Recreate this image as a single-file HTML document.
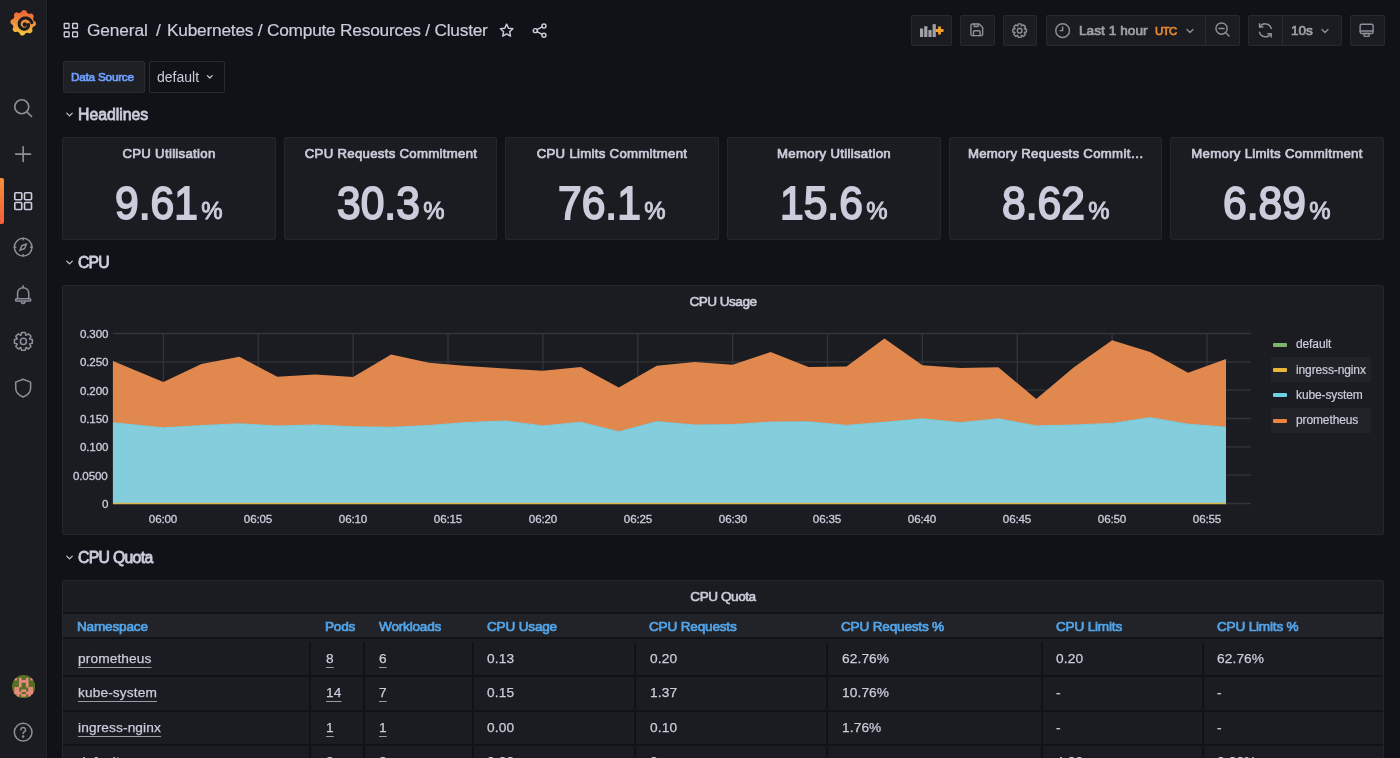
<!DOCTYPE html>
<html><head><meta charset="utf-8"><title>Kubernetes / Compute Resources / Cluster</title>
<style>
html,body{margin:0;padding:0;}
body{width:1400px;height:758px;overflow:hidden;background:#111217;font-family:"Liberation Sans", sans-serif;position:relative;}
.t{will-change:transform;}
</style></head><body>
<div style="position:absolute;left:0.00px;top:0.00px;width:47.00px;height:758.00px;background:#1b1c21;border-radius:0px;box-sizing:border-box;border-right:1px solid #26272c;box-shadow:1px 0 0 #0d0e12;"></div>
<svg style="position:absolute;left:0.00px;top:0.00px;" width="46" height="46" viewBox="0 0 46 46" fill="none">
<defs><linearGradient id="lg" x1="0" y1="0" x2="0" y2="1"><stop offset="0" stop-color="#ec5f33"/><stop offset="0.5" stop-color="#f0913a"/><stop offset="1" stop-color="#f6c83e"/></linearGradient></defs>
<path fill="url(#lg)" d="M35.85 22.80 L35.89 23.30 L35.86 23.80 L35.81 24.29 L35.73 24.78 L35.55 25.26 L35.21 25.68 L34.67 26.03 L34.02 26.31 L33.44 26.58 L33.07 26.89 L32.84 27.24 L32.65 27.61 L32.45 27.98 L32.27 28.36 L32.17 28.79 L32.22 29.35 L32.37 30.03 L32.46 30.71 L32.38 31.29 L32.15 31.75 L31.82 32.12 L31.45 32.46 L31.06 32.77 L30.65 33.06 L30.20 33.27 L29.65 33.33 L29.02 33.20 L28.36 32.93 L27.77 32.71 L27.29 32.67 L26.87 32.75 L26.48 32.88 L26.08 33.01 L25.68 33.14 L25.30 33.38 L24.94 33.81 L24.57 34.40 L24.16 34.94 L23.69 35.30 L23.20 35.45 L22.70 35.49 L22.20 35.46 L21.71 35.41 L21.22 35.33 L20.74 35.15 L20.32 34.81 L19.97 34.27 L19.69 33.62 L19.42 33.04 L19.11 32.67 L18.76 32.44 L18.39 32.25 L18.02 32.05 L17.64 31.87 L17.21 31.77 L16.65 31.82 L15.97 31.97 L15.29 32.06 L14.71 31.98 L14.25 31.75 L13.88 31.42 L13.54 31.05 L13.23 30.66 L12.94 30.25 L12.73 29.80 L12.67 29.25 L12.80 28.62 L13.07 27.96 L13.29 27.37 L13.33 26.89 L13.25 26.47 L13.12 26.08 L12.99 25.68 L12.86 25.28 L12.62 24.90 L12.19 24.54 L11.60 24.17 L11.06 23.76 L10.70 23.29 L10.55 22.80 L10.51 22.30 L10.54 21.80 L10.59 21.31 L10.67 20.82 L10.85 20.34 L11.19 19.92 L11.73 19.57 L12.38 19.29 L12.96 19.02 L13.33 18.71 L13.56 18.36 L13.75 17.99 L13.95 17.62 L14.13 17.24 L14.23 16.81 L14.18 16.25 L14.03 15.57 L13.94 14.89 L14.02 14.31 L14.25 13.85 L14.58 13.48 L14.95 13.14 L15.34 12.83 L15.75 12.54 L16.20 12.33 L16.75 12.27 L17.38 12.40 L18.04 12.67 L18.63 12.89 L19.11 12.93 L19.53 12.85 L19.92 12.72 L20.32 12.59 L20.72 12.46 L21.10 12.22 L21.46 11.79 L21.83 11.20 L22.24 10.66 L22.71 10.30 L23.20 10.15 L23.70 10.11 L24.20 10.14 L24.69 10.19 L25.18 10.27 L25.66 10.45 L26.08 10.79 L26.43 11.33 L26.71 11.98 L26.98 12.56 L27.29 12.93 L27.64 13.16 L28.01 13.35 L28.38 13.55 L28.76 13.73 L29.19 13.83 L29.75 13.78 L30.43 13.63 L31.11 13.54 L31.69 13.62 L32.15 13.85 L32.52 14.18 L32.86 14.55 L33.17 14.94 L33.46 15.35 L33.67 15.80 L33.73 16.35 L33.60 16.98 L33.33 17.64 L33.11 18.23 L33.07 18.71 L33.15 19.13 L33.28 19.52 L33.41 19.92 L33.54 20.32 L33.78 20.70 L34.21 21.06 L34.80 21.43 L35.34 21.84 L35.70 22.31 Z"/>
<path d="M31.85 22.61 L31.57 21.92 L31.21 21.28 L30.80 20.67 L30.33 20.12 L29.81 19.62 L29.25 19.18 L28.65 18.81 L28.02 18.50 L27.37 18.26 L26.70 18.09 L26.03 17.99 L25.35 17.96 L24.68 17.99 L24.03 18.10 L23.40 18.27 L22.79 18.51 L22.21 18.80 L21.68 19.14 L21.18 19.54 L20.74 19.98 L20.34 20.46 L20.00 20.97 L19.72 21.51 L19.50 22.07 L19.33 22.64 L19.23 23.22 L19.19 23.80 L19.21 24.38 L19.29 24.94 L19.42 25.49 L19.61 26.02 L19.85 26.51 L20.13 26.98 L20.46 27.41 L20.82 27.80 L21.22 28.14 L21.65 28.44 L22.10 28.69 L22.57 28.89 L23.05 29.03 L23.54 29.13 L24.03 29.17 L24.51 29.17 L24.98 29.11 L25.44 29.01 L25.89 28.86 L26.30 28.67 L26.69 28.44 L27.05 28.17 L27.38 27.88 L27.67 27.55 L27.92 27.20 L28.13 26.84 L28.29 26.46 L28.42 26.07 L28.50 25.67 L28.54 25.27 L28.54 24.88 L28.50 24.50" stroke="#1b1c21" stroke-width="3.1" stroke-linecap="round" fill="none"/>
<circle cx="24.8" cy="24.5" r="2.2" fill="#1b1c21"/>
</svg>
<svg style="position:absolute;left:12.14px;top:96.64px;" width="22.32" height="22.32" viewBox="0 0 24 24" fill="none"><g stroke="#8e8e99" stroke-width="1.75" stroke-linecap="round" stroke-linejoin="round" fill="none"><circle cx="10.5" cy="10.5" r="7.5"/><path d="M16 16 L21 21"/></g></svg>
<svg style="position:absolute;left:12.04px;top:143.34px;" width="22.32" height="22.32" viewBox="0 0 24 24" fill="none"><g stroke="#8e8e99" stroke-width="1.75" stroke-linecap="round" stroke-linejoin="round" fill="none"><path d="M12 4 V20 M4 12 H20"/></g></svg>
<div style="position:absolute;left:0;top:178px;width:3.5px;height:46px;background:linear-gradient(#f68f3a,#f15f38);border-radius:0 2px 2px 0"></div>
<svg style="position:absolute;left:12.24px;top:190.04px;" width="22.32" height="22.32" viewBox="0 0 24 24" fill="none"><g stroke="#ccccdc" stroke-width="1.75" stroke-linecap="round" stroke-linejoin="round" fill="none"><rect x="3" y="3" width="7.5" height="7.5" rx="1"/><rect x="13.5" y="3" width="7.5" height="7.5" rx="1"/><rect x="3" y="13.5" width="7.5" height="7.5" rx="1"/><rect x="13.5" y="13.5" width="7.5" height="7.5" rx="1"/></g></svg>
<svg style="position:absolute;left:12.24px;top:236.44px;" width="22.32" height="22.32" viewBox="0 0 24 24" fill="none"><g stroke="#8e8e99" stroke-width="1.6" stroke-linecap="round" stroke-linejoin="round" fill="none"><circle cx="12" cy="12" r="9.5"/><path d="M15.5 8.5 L13.5 13.5 L8.5 15.5 L10.5 10.5 Z"/><path d="M12 2.5V4 M12 20V21.5 M2.5 12H4 M20 12H21.5" /></g></svg>
<svg style="position:absolute;left:11.84px;top:283.34px;" width="22.32" height="22.32" viewBox="0 0 24 24" fill="none"><g stroke="#8e8e99" stroke-width="1.6" stroke-linecap="round" stroke-linejoin="round" fill="none"><path d="M6 17 V11 A6 6 0 0 1 18 11 V17"/><path d="M5 17 H19 A1.2 1.2 0 0 1 19 19.4 H5 A1.2 1.2 0 0 1 5 17Z"/><path d="M10 20 A2 2 0 0 0 14 20"/><path d="M12 3V5"/></g></svg>
<svg style="position:absolute;left:11.80px;top:329.60px;" width="22.799999999999997" height="22.799999999999997" viewBox="0 0 24 24" fill="none"><g stroke="#8e8e99" stroke-width="1.6" stroke-linecap="round" stroke-linejoin="round" fill="none"><circle cx="12" cy="12" r="3.2"/><path d="M9.40 5.50 L10.09 2.59 L13.91 2.59 L14.60 5.50 L14.76 5.57 L17.30 4.00 L20.00 6.70 L18.43 9.24 L18.50 9.40 L21.41 10.09 L21.41 13.91 L18.50 14.60 L18.43 14.76 L20.00 17.30 L17.30 20.00 L14.76 18.43 L14.60 18.50 L13.91 21.41 L10.09 21.41 L9.40 18.50 L9.24 18.43 L6.70 20.00 L4.00 17.30 L5.57 14.76 L5.50 14.60 L2.59 13.91 L2.59 10.09 L5.50 9.40 L5.57 9.24 L4.00 6.70 L6.70 4.00 L9.24 5.57 Z"/></g></svg>
<svg style="position:absolute;left:12.04px;top:376.64px;" width="22.32" height="22.32" viewBox="0 0 24 24" fill="none"><g stroke="#8e8e99" stroke-width="1.65" stroke-linecap="round" stroke-linejoin="round" fill="none"><path d="M12 2.5 L20 5.5 V12 C20 16.5 16.5 19.5 12 21.5 C7.5 19.5 4 16.5 4 12 V5.5 Z"/></g></svg>
<svg style="position:absolute;left:11.60px;top:675.00px;" width="23.3" height="23.3" viewBox="0 0 23.3 23.3" fill="none"><clipPath id="avc"><circle cx="11.65" cy="11.65" r="11.65"/></clipPath><g clip-path="url(#avc)"><rect width="24" height="24" fill="#566f22"/><rect x="2.30" y="2.80" width="2.6" height="2.6" fill="#ee8b80"/><rect x="6.94" y="2.80" width="2.6" height="2.6" fill="#ee8b80"/><rect x="13.90" y="2.80" width="2.6" height="2.6" fill="#ee8b80"/><rect x="18.54" y="2.80" width="2.6" height="2.6" fill="#ee8b80"/><rect x="6.94" y="5.12" width="2.6" height="2.6" fill="#ee8b80"/><rect x="9.26" y="5.12" width="2.6" height="2.6" fill="#ee8b80"/><rect x="11.58" y="5.12" width="2.6" height="2.6" fill="#ee8b80"/><rect x="13.90" y="5.12" width="2.6" height="2.6" fill="#ee8b80"/><rect x="6.94" y="7.44" width="2.6" height="2.6" fill="#ee8b80"/><rect x="13.90" y="7.44" width="2.6" height="2.6" fill="#ee8b80"/><rect x="6.94" y="9.76" width="2.6" height="2.6" fill="#ee8b80"/><rect x="13.90" y="9.76" width="2.6" height="2.6" fill="#ee8b80"/><rect x="2.30" y="12.08" width="2.6" height="2.6" fill="#ee8b80"/><rect x="4.62" y="12.08" width="2.6" height="2.6" fill="#ee8b80"/><rect x="16.22" y="12.08" width="2.6" height="2.6" fill="#ee8b80"/><rect x="18.54" y="12.08" width="2.6" height="2.6" fill="#ee8b80"/><rect x="2.30" y="14.40" width="2.6" height="2.6" fill="#ee8b80"/><rect x="4.62" y="14.40" width="2.6" height="2.6" fill="#ee8b80"/><rect x="9.26" y="14.40" width="2.6" height="2.6" fill="#ee8b80"/><rect x="11.58" y="14.40" width="2.6" height="2.6" fill="#ee8b80"/><rect x="16.22" y="14.40" width="2.6" height="2.6" fill="#ee8b80"/><rect x="18.54" y="14.40" width="2.6" height="2.6" fill="#ee8b80"/><rect x="2.30" y="16.72" width="2.6" height="2.6" fill="#ee8b80"/><rect x="4.62" y="16.72" width="2.6" height="2.6" fill="#ee8b80"/><rect x="6.94" y="16.72" width="2.6" height="2.6" fill="#ee8b80"/><rect x="13.90" y="16.72" width="2.6" height="2.6" fill="#ee8b80"/><rect x="16.22" y="16.72" width="2.6" height="2.6" fill="#ee8b80"/><rect x="18.54" y="16.72" width="2.6" height="2.6" fill="#ee8b80"/><rect x="4.62" y="19.04" width="2.6" height="2.6" fill="#ee8b80"/><rect x="9.26" y="19.04" width="2.6" height="2.6" fill="#ee8b80"/><rect x="11.58" y="19.04" width="2.6" height="2.6" fill="#ee8b80"/><rect x="16.22" y="19.04" width="2.6" height="2.6" fill="#ee8b80"/></g></svg>
<svg style="position:absolute;left:12.04px;top:720.84px;" width="22.32" height="22.32" viewBox="0 0 24 24" fill="none"><g stroke="#8e8e99" stroke-width="1.6" stroke-linecap="round" stroke-linejoin="round" fill="none"><circle cx="12" cy="12" r="9.5"/><path d="M9.5 9.5 A2.5 2.5 0 1 1 13 11.8 C12.3 12.2 12 12.7 12 13.5"/><circle cx="12" cy="16.8" r="0.6" fill="#8e8e99"/></g></svg>
<svg style="position:absolute;left:60.00px;top:20.00px;" width="22" height="22" viewBox="0 0 22 22" fill="none"><g stroke="#ccccdc" stroke-width="1.35" fill="none"><rect x="4.25" y="3.45" width="4.8" height="4.8" rx="0.5"/><rect x="12.65" y="3.45" width="4.8" height="4.8" rx="0.5"/><rect x="4.25" y="11.95" width="4.8" height="4.8" rx="0.5"/><rect x="12.65" y="11.95" width="4.8" height="4.8" rx="0.5"/></g></svg>
<div class="t" style="position:absolute;left:87.00px;top:21.86px;font-size:17.3px;line-height:17.3px;font-weight:400;color:#ccccdc;letter-spacing:-0.12px;white-space:nowrap;-webkit-text-stroke:0.2px #ccccdc;">General</div>
<div class="t" style="position:absolute;left:155.60px;top:21.86px;font-size:17.3px;line-height:17.3px;font-weight:400;color:#ccccdc;letter-spacing:0px;white-space:nowrap;-webkit-text-stroke:0.2px #ccccdc;">/</div>
<div class="t" style="position:absolute;left:167.20px;top:21.86px;font-size:17.3px;line-height:17.3px;font-weight:400;color:#ccccdc;letter-spacing:-0.22px;white-space:nowrap;-webkit-text-stroke:0.2px #ccccdc;">Kubernetes / Compute Resources / Cluster</div>
<svg style="position:absolute;left:497.86px;top:22.16px;" width="17.28" height="17.28" viewBox="0 0 24 24" fill="none"><g stroke="#ccccdc" stroke-width="2" stroke-linecap="round" stroke-linejoin="round" fill="none"><path d="M12 3 L14.6 8.6 L20.7 9.3 L16.2 13.5 L17.4 19.6 L12 16.6 L6.6 19.6 L7.8 13.5 L3.3 9.3 L9.4 8.6 Z"/></g></svg>
<svg style="position:absolute;left:531.06px;top:22.16px;" width="17.28" height="17.28" viewBox="0 0 24 24" fill="none"><g stroke="#ccccdc" stroke-width="2" stroke-linecap="round" stroke-linejoin="round" fill="none"><circle cx="18" cy="5.5" r="2.8"/><circle cx="6" cy="12" r="2.8"/><circle cx="18" cy="18.5" r="2.8"/><path d="M8.5 10.7 L15.5 6.8 M8.5 13.3 L15.5 17.2"/></g></svg>
<div style="position:absolute;left:911.00px;top:14.50px;width:41.00px;height:31.50px;background:#1b1c21;border:1px solid #28292e;border-radius:2px;box-sizing:border-box;"></div>
<svg style="position:absolute;left:919.00px;top:23.00px;" width="26" height="15" viewBox="0 0 26 15" fill="none"><g fill="#a0a1ab"><rect x="1" y="5.5" width="3.2" height="8.5"/><rect x="5.2" y="3.2" width="3.2" height="10.8"/><rect x="9.4" y="7" width="3.2" height="7"/><rect x="13.6" y="1.2" width="3.2" height="12.8"/></g><path d="M20.5 3.5 V11.5 M16.5 7.5 H24.5" stroke="#f5a22d" stroke-width="2.8"/></svg>
<div style="position:absolute;left:960.00px;top:14.50px;width:34.50px;height:31.50px;background:#1b1c21;border:1px solid #28292e;border-radius:2px;box-sizing:border-box;"></div>
<svg style="position:absolute;left:969.40px;top:22.40px;" width="15.600000000000001" height="15.600000000000001" viewBox="0 0 24 24" fill="none"><g stroke="#8e8e99" stroke-width="2.2" stroke-linecap="round" stroke-linejoin="round" fill="none"><path d="M5 3 H15.5 L21 8.5 V19 A2 2 0 0 1 19 21 H5 A2 2 0 0 1 3 19 V5 A2 2 0 0 1 5 3 Z"/><path d="M8 3 V7 H14 V3"/><path d="M7 21 V15 A1.5 1.5 0 0 1 8.5 13.5 H15.5 A1.5 1.5 0 0 1 17 15 V21"/></g></svg>
<div style="position:absolute;left:1002.50px;top:14.50px;width:34.50px;height:31.50px;background:#1b1c21;border:1px solid #28292e;border-radius:2px;box-sizing:border-box;"></div>
<svg style="position:absolute;left:1011.16px;top:21.66px;" width="17.28" height="17.28" viewBox="0 0 24 24" fill="none"><g stroke="#8e8e99" stroke-width="2.0" stroke-linecap="round" stroke-linejoin="round" fill="none"><circle cx="12" cy="12" r="3.2"/><path d="M9.40 5.50 L10.09 2.59 L13.91 2.59 L14.60 5.50 L14.76 5.57 L17.30 4.00 L20.00 6.70 L18.43 9.24 L18.50 9.40 L21.41 10.09 L21.41 13.91 L18.50 14.60 L18.43 14.76 L20.00 17.30 L17.30 20.00 L14.76 18.43 L14.60 18.50 L13.91 21.41 L10.09 21.41 L9.40 18.50 L9.24 18.43 L6.70 20.00 L4.00 17.30 L5.57 14.76 L5.50 14.60 L2.59 13.91 L2.59 10.09 L5.50 9.40 L5.57 9.24 L4.00 6.70 L6.70 4.00 L9.24 5.57 Z"/></g></svg>
<div style="position:absolute;left:1045.50px;top:14.50px;width:194.50px;height:31.50px;background:#1b1c21;border:1px solid #28292e;border-radius:2px;box-sizing:border-box;"></div>
<div style="position:absolute;left:1205px;top:15px;width:1px;height:30.5px;background:#2a2b30"></div>
<svg style="position:absolute;left:1053.86px;top:21.56px;" width="17.28" height="17.28" viewBox="0 0 24 24" fill="none"><g stroke="#8e8e99" stroke-width="2" stroke-linecap="round" stroke-linejoin="round" fill="none"><circle cx="12" cy="12" r="9.5"/><path d="M12 7 V12 H8.5"/></g></svg>
<div class="t" style="position:absolute;left:1079.20px;top:23.69px;font-size:13.6px;line-height:13.6px;font-weight:400;color:#9fa0aa;letter-spacing:0.05px;white-space:nowrap;-webkit-text-stroke:0.7px #9fa0aa;">Last 1 hour</div>
<div class="t" style="position:absolute;left:1155.30px;top:25.55px;font-size:11.4px;line-height:11.4px;font-weight:400;color:#eb8a2f;letter-spacing:-0.6px;white-space:nowrap;-webkit-text-stroke:0.65px #eb8a2f;">UTC</div>
<svg style="position:absolute;left:1183.50px;top:24.50px;" width="12.0" height="12.0" viewBox="0 0 24 24" fill="none"><g stroke="#8e8e99" stroke-width="2.6" stroke-linecap="round" stroke-linejoin="round" fill="none"><path d="M6 9 L12 15 L18 9"/></g></svg>
<svg style="position:absolute;left:1213.66px;top:21.36px;" width="17.28" height="17.28" viewBox="0 0 24 24" fill="none"><g stroke="#8e8e99" stroke-width="2" stroke-linecap="round" stroke-linejoin="round" fill="none"><circle cx="10.5" cy="10.5" r="7.8"/><path d="M16.3 16.3 L21 21 M7 10.5 H14"/></g></svg>
<div style="position:absolute;left:1248.00px;top:14.50px;width:93.50px;height:31.50px;background:#1b1c21;border:1px solid #28292e;border-radius:2px;box-sizing:border-box;"></div>
<div style="position:absolute;left:1282px;top:15px;width:1px;height:30.5px;background:#2a2b30"></div>
<svg style="position:absolute;left:1256.04px;top:20.64px;" width="18.72" height="18.72" viewBox="0 0 24 24" fill="none"><g stroke="#8e8e99" stroke-width="1.9" stroke-linecap="round" stroke-linejoin="round" fill="none"><path d="M19.5 9.5 A8 8 0 0 0 5 7.5 M4.5 14.5 A8 8 0 0 0 19 16.5"/><path d="M4.5 3.5 V7.8 H8.8 M19.5 20.5 V16.2 H15.2"/></g></svg>
<div class="t" style="position:absolute;left:1290.50px;top:23.69px;font-size:13.6px;line-height:13.6px;font-weight:400;color:#9fa0aa;letter-spacing:0px;white-space:nowrap;-webkit-text-stroke:0.7px #9fa0aa;">10s</div>
<svg style="position:absolute;left:1319.20px;top:24.50px;" width="12.0" height="12.0" viewBox="0 0 24 24" fill="none"><g stroke="#8e8e99" stroke-width="2.6" stroke-linecap="round" stroke-linejoin="round" fill="none"><path d="M6 9 L12 15 L18 9"/></g></svg>
<div style="position:absolute;left:1349.50px;top:14.50px;width:35.00px;height:31.50px;background:#1b1c21;border:1px solid #28292e;border-radius:2px;box-sizing:border-box;"></div>
<svg style="position:absolute;left:1358.36px;top:21.56px;" width="17.28" height="17.28" viewBox="0 0 24 24" fill="none"><g stroke="#8e8e99" stroke-width="2" stroke-linecap="round" stroke-linejoin="round" fill="none"><rect x="3" y="3" width="18" height="13" rx="2"/><path d="M3 12.5 H21"/><rect x="8.5" y="16" width="7" height="4" rx="1"/></g></svg>
<div style="position:absolute;left:62.50px;top:61.00px;width:82.50px;height:31.50px;background:#1f2025;border:1px solid #2a2b30;border-radius:2px;box-sizing:border-box;"></div>
<div class="t" style="position:absolute;left:71.00px;top:72.01px;font-size:11.8px;line-height:11.8px;font-weight:400;color:#6e9fff;letter-spacing:-0.25px;white-space:nowrap;-webkit-text-stroke:0.7px #6e9fff;">Data Source</div>
<div style="position:absolute;left:149.00px;top:61.00px;width:76.00px;height:31.50px;background:#111217;border:1px solid #2a2b30;border-radius:2px;box-sizing:border-box;"></div>
<div class="t" style="position:absolute;left:157.40px;top:70.05px;font-size:14px;line-height:14px;font-weight:400;color:#ccccdc;letter-spacing:0px;white-space:nowrap;">default</div>
<svg style="position:absolute;left:204.80px;top:72.40px;" width="9.600000000000001" height="9.600000000000001" viewBox="0 0 24 24" fill="none"><g stroke="#ccccdc" stroke-width="3" stroke-linecap="round" stroke-linejoin="round" fill="none"><path d="M6 9 L12 15 L18 9"/></g></svg>
<svg style="position:absolute;left:64.48px;top:109.28px;" width="11.040000000000001" height="11.040000000000001" viewBox="0 0 24 24" fill="none"><g stroke="#ccccdc" stroke-width="2.5" stroke-linecap="round" stroke-linejoin="round" fill="none"><path d="M6 9 L12 15 L18 9"/></g></svg>
<div class="t" style="position:absolute;left:77.60px;top:106.73px;font-size:15.8px;line-height:15.8px;font-weight:400;color:#ccccdc;letter-spacing:0.0px;white-space:nowrap;-webkit-text-stroke:0.8px #ccccdc;">Headlines</div>
<svg style="position:absolute;left:64.48px;top:257.08px;" width="11.040000000000001" height="11.040000000000001" viewBox="0 0 24 24" fill="none"><g stroke="#ccccdc" stroke-width="2.5" stroke-linecap="round" stroke-linejoin="round" fill="none"><path d="M6 9 L12 15 L18 9"/></g></svg>
<div class="t" style="position:absolute;left:77.60px;top:254.53px;font-size:15.8px;line-height:15.8px;font-weight:400;color:#ccccdc;letter-spacing:-0.9px;white-space:nowrap;-webkit-text-stroke:0.8px #ccccdc;">CPU</div>
<svg style="position:absolute;left:64.48px;top:552.38px;" width="11.040000000000001" height="11.040000000000001" viewBox="0 0 24 24" fill="none"><g stroke="#ccccdc" stroke-width="2.5" stroke-linecap="round" stroke-linejoin="round" fill="none"><path d="M6 9 L12 15 L18 9"/></g></svg>
<div class="t" style="position:absolute;left:77.60px;top:549.83px;font-size:15.8px;line-height:15.8px;font-weight:400;color:#ccccdc;letter-spacing:-0.7px;white-space:nowrap;-webkit-text-stroke:0.8px #ccccdc;">CPU Quota</div>
<div style="position:absolute;left:62.00px;top:137.00px;width:213.67px;height:102.50px;background:#1b1c21;border:1px solid #25262b;border-radius:2px;box-sizing:border-box;"></div>
<div class="t" style="position:absolute;left:-31.17px;width:400px;top:147.43px;font-size:13.2px;line-height:13.2px;font-weight:400;color:#ccccdc;letter-spacing:0.3px;white-space:nowrap;text-align:center;-webkit-text-stroke:0.7px #ccccdc;">CPU Utilisation</div>
<div class="t" style="position:absolute;left:62.00px;width:213.67px;top:179.96px;text-align:center;white-space:nowrap;color:#ccccdc;font-weight:700;line-height:46px"><span style="display:inline-block;font-size:46px;font-weight:400;letter-spacing:0px;-webkit-text-stroke:1.8px #ccccdc;transform:scaleX(0.925);transform-origin:0 0;margin-right:-6.7px">9.61</span><span style="font-size:24px;font-weight:400;margin-left:3.5px;-webkit-text-stroke:0.9px #ccccdc">%</span></div>
<div style="position:absolute;left:283.67px;top:137.00px;width:213.67px;height:102.50px;background:#1b1c21;border:1px solid #25262b;border-radius:2px;box-sizing:border-box;"></div>
<div class="t" style="position:absolute;left:190.50px;width:400px;top:147.43px;font-size:13.2px;line-height:13.2px;font-weight:400;color:#ccccdc;letter-spacing:0.3px;white-space:nowrap;text-align:center;-webkit-text-stroke:0.7px #ccccdc;">CPU Requests Commitment</div>
<div class="t" style="position:absolute;left:283.67px;width:213.67px;top:179.96px;text-align:center;white-space:nowrap;color:#ccccdc;font-weight:700;line-height:46px"><span style="display:inline-block;font-size:46px;font-weight:400;letter-spacing:0px;-webkit-text-stroke:1.8px #ccccdc;transform:scaleX(0.925);transform-origin:0 0;margin-right:-6.7px">30.3</span><span style="font-size:24px;font-weight:400;margin-left:3.5px;-webkit-text-stroke:0.9px #ccccdc">%</span></div>
<div style="position:absolute;left:505.33px;top:137.00px;width:213.67px;height:102.50px;background:#1b1c21;border:1px solid #25262b;border-radius:2px;box-sizing:border-box;"></div>
<div class="t" style="position:absolute;left:412.17px;width:400px;top:147.43px;font-size:13.2px;line-height:13.2px;font-weight:400;color:#ccccdc;letter-spacing:0.3px;white-space:nowrap;text-align:center;-webkit-text-stroke:0.7px #ccccdc;">CPU Limits Commitment</div>
<div class="t" style="position:absolute;left:505.33px;width:213.67px;top:179.96px;text-align:center;white-space:nowrap;color:#ccccdc;font-weight:700;line-height:46px"><span style="display:inline-block;font-size:46px;font-weight:400;letter-spacing:0px;-webkit-text-stroke:1.8px #ccccdc;transform:scaleX(0.925);transform-origin:0 0;margin-right:-6.7px">76.1</span><span style="font-size:24px;font-weight:400;margin-left:3.5px;-webkit-text-stroke:0.9px #ccccdc">%</span></div>
<div style="position:absolute;left:727.00px;top:137.00px;width:213.67px;height:102.50px;background:#1b1c21;border:1px solid #25262b;border-radius:2px;box-sizing:border-box;"></div>
<div class="t" style="position:absolute;left:633.83px;width:400px;top:147.43px;font-size:13.2px;line-height:13.2px;font-weight:400;color:#ccccdc;letter-spacing:0.3px;white-space:nowrap;text-align:center;-webkit-text-stroke:0.7px #ccccdc;">Memory Utilisation</div>
<div class="t" style="position:absolute;left:727.00px;width:213.67px;top:179.96px;text-align:center;white-space:nowrap;color:#ccccdc;font-weight:700;line-height:46px"><span style="display:inline-block;font-size:46px;font-weight:400;letter-spacing:0px;-webkit-text-stroke:1.8px #ccccdc;transform:scaleX(0.925);transform-origin:0 0;margin-right:-6.7px">15.6</span><span style="font-size:24px;font-weight:400;margin-left:3.5px;-webkit-text-stroke:0.9px #ccccdc">%</span></div>
<div style="position:absolute;left:948.67px;top:137.00px;width:213.67px;height:102.50px;background:#1b1c21;border:1px solid #25262b;border-radius:2px;box-sizing:border-box;"></div>
<div class="t" style="position:absolute;left:855.50px;width:400px;top:147.43px;font-size:13.2px;line-height:13.2px;font-weight:400;color:#ccccdc;letter-spacing:0.3px;white-space:nowrap;text-align:center;-webkit-text-stroke:0.7px #ccccdc;">Memory Requests Commit&hellip;</div>
<div class="t" style="position:absolute;left:948.67px;width:213.67px;top:179.96px;text-align:center;white-space:nowrap;color:#ccccdc;font-weight:700;line-height:46px"><span style="display:inline-block;font-size:46px;font-weight:400;letter-spacing:0px;-webkit-text-stroke:1.8px #ccccdc;transform:scaleX(0.925);transform-origin:0 0;margin-right:-6.7px">8.62</span><span style="font-size:24px;font-weight:400;margin-left:3.5px;-webkit-text-stroke:0.9px #ccccdc">%</span></div>
<div style="position:absolute;left:1170.33px;top:137.00px;width:213.67px;height:102.50px;background:#1b1c21;border:1px solid #25262b;border-radius:2px;box-sizing:border-box;"></div>
<div class="t" style="position:absolute;left:1077.17px;width:400px;top:147.43px;font-size:13.2px;line-height:13.2px;font-weight:400;color:#ccccdc;letter-spacing:0.3px;white-space:nowrap;text-align:center;-webkit-text-stroke:0.7px #ccccdc;">Memory Limits Commitment</div>
<div class="t" style="position:absolute;left:1170.33px;width:213.67px;top:179.96px;text-align:center;white-space:nowrap;color:#ccccdc;font-weight:700;line-height:46px"><span style="display:inline-block;font-size:46px;font-weight:400;letter-spacing:0px;-webkit-text-stroke:1.8px #ccccdc;transform:scaleX(0.925);transform-origin:0 0;margin-right:-6.7px">6.89</span><span style="font-size:24px;font-weight:400;margin-left:3.5px;-webkit-text-stroke:0.9px #ccccdc">%</span></div>
<div style="position:absolute;left:62.00px;top:285.00px;width:1322.00px;height:250.00px;background:#1b1c21;border:1px solid #25262b;border-radius:2px;box-sizing:border-box;"></div>
<div class="t" style="position:absolute;left:523.30px;width:400px;top:294.69px;font-size:13.6px;line-height:13.6px;font-weight:400;color:#ccccdc;letter-spacing:-0.55px;white-space:nowrap;text-align:center;-webkit-text-stroke:0.6px #ccccdc;">CPU Usage</div>
<svg style="position:absolute;left:0.00px;top:0.00px;" width="1400" height="758" viewBox="0 0 1400 758" fill="none"><line x1="112.9" x2="1251" y1="333.50" y2="333.50" stroke="#333439" stroke-width="1.35"/><line x1="112.9" x2="1251" y1="361.83" y2="361.83" stroke="#333439" stroke-width="1.35"/><line x1="112.9" x2="1251" y1="390.17" y2="390.17" stroke="#333439" stroke-width="1.35"/><line x1="112.9" x2="1251" y1="418.50" y2="418.50" stroke="#333439" stroke-width="1.35"/><line x1="112.9" x2="1251" y1="446.83" y2="446.83" stroke="#333439" stroke-width="1.35"/><line x1="112.9" x2="1251" y1="475.17" y2="475.17" stroke="#333439" stroke-width="1.35"/><line x1="112.9" x2="1251" y1="503.50" y2="503.50" stroke="#333439" stroke-width="1.35"/><line x1="163.40" x2="163.40" y1="333.5" y2="503.5" stroke="#333439" stroke-width="1.35"/><line x1="258.27" x2="258.27" y1="333.5" y2="503.5" stroke="#333439" stroke-width="1.35"/><line x1="353.14" x2="353.14" y1="333.5" y2="503.5" stroke="#333439" stroke-width="1.35"/><line x1="448.01" x2="448.01" y1="333.5" y2="503.5" stroke="#333439" stroke-width="1.35"/><line x1="542.88" x2="542.88" y1="333.5" y2="503.5" stroke="#333439" stroke-width="1.35"/><line x1="637.75" x2="637.75" y1="333.5" y2="503.5" stroke="#333439" stroke-width="1.35"/><line x1="732.62" x2="732.62" y1="333.5" y2="503.5" stroke="#333439" stroke-width="1.35"/><line x1="827.49" x2="827.49" y1="333.5" y2="503.5" stroke="#333439" stroke-width="1.35"/><line x1="922.36" x2="922.36" y1="333.5" y2="503.5" stroke="#333439" stroke-width="1.35"/><line x1="1017.23" x2="1017.23" y1="333.5" y2="503.5" stroke="#333439" stroke-width="1.35"/><line x1="1112.10" x2="1112.10" y1="333.5" y2="503.5" stroke="#333439" stroke-width="1.35"/><line x1="1206.97" x2="1206.97" y1="333.5" y2="503.5" stroke="#333439" stroke-width="1.35"/><polygon points="112.90,361.00 163.40,382.10 201.35,363.90 239.30,356.80 277.25,376.80 315.20,374.60 353.15,377.00 391.10,354.60 429.05,362.70 467.00,366.00 504.95,368.50 542.90,370.70 580.85,367.00 618.80,387.50 656.75,365.70 694.70,362.10 732.65,364.80 770.60,352.00 808.55,367.00 846.50,366.40 884.45,338.40 922.40,365.20 960.35,367.90 998.30,367.30 1036.25,398.90 1074.20,367.00 1112.15,340.30 1150.10,352.10 1188.05,372.70 1226.00,359.10 1226.00,427.20 1188.05,424.20 1150.10,417.70 1112.15,423.40 1074.20,425.00 1036.25,425.90 998.30,418.80 960.35,422.70 922.40,418.80 884.45,422.30 846.50,425.40 808.55,421.80 770.60,422.10 732.65,424.60 694.70,425.00 656.75,421.60 618.80,431.80 580.85,422.30 542.90,425.90 504.95,421.00 467.00,422.50 429.05,425.50 391.10,427.30 353.15,426.80 315.20,424.90 277.25,426.00 239.30,423.80 201.35,425.60 163.40,427.80 112.90,422.80" fill="#e1884e"/><polygon points="112.90,422.80 163.40,427.80 201.35,425.60 239.30,423.80 277.25,426.00 315.20,424.90 353.15,426.80 391.10,427.30 429.05,425.50 467.00,422.50 504.95,421.00 542.90,425.90 580.85,422.30 618.80,431.80 656.75,421.60 694.70,425.00 732.65,424.60 770.60,422.10 808.55,421.80 846.50,425.40 884.45,422.30 922.40,418.80 960.35,422.70 998.30,418.80 1036.25,425.90 1074.20,425.00 1112.15,423.40 1150.10,417.70 1188.05,424.20 1226.00,427.20 1226.00,503.5 112.90,503.5" fill="#84cddd"/><polyline points="112.90,422.80 163.40,427.80 201.35,425.60 239.30,423.80 277.25,426.00 315.20,424.90 353.15,426.80 391.10,427.30 429.05,425.50 467.00,422.50 504.95,421.00 542.90,425.90 580.85,422.30 618.80,431.80 656.75,421.60 694.70,425.00 732.65,424.60 770.60,422.10 808.55,421.80 846.50,425.40 884.45,422.30 922.40,418.80 960.35,422.70 998.30,418.80 1036.25,425.90 1074.20,425.00 1112.15,423.40 1150.10,417.70 1188.05,424.20 1226.00,427.20" stroke="#7fd0e2" stroke-width="1" fill="none"/><line x1="112.90" x2="1226.00" y1="503.5" y2="503.5" stroke="#d9b548" stroke-width="1.3"/></svg>
<div class="t" style="position:absolute;right:1292.20px;top:327.88px;font-size:11.6px;line-height:11.6px;font-weight:400;color:#ccccdc;letter-spacing:-0.15px;white-space:nowrap;text-align:right;-webkit-text-stroke:0.3px #ccccdc;">0.300</div>
<div class="t" style="position:absolute;right:1292.20px;top:356.21px;font-size:11.6px;line-height:11.6px;font-weight:400;color:#ccccdc;letter-spacing:-0.15px;white-space:nowrap;text-align:right;-webkit-text-stroke:0.3px #ccccdc;">0.250</div>
<div class="t" style="position:absolute;right:1292.20px;top:384.55px;font-size:11.6px;line-height:11.6px;font-weight:400;color:#ccccdc;letter-spacing:-0.15px;white-space:nowrap;text-align:right;-webkit-text-stroke:0.3px #ccccdc;">0.200</div>
<div class="t" style="position:absolute;right:1292.20px;top:412.88px;font-size:11.6px;line-height:11.6px;font-weight:400;color:#ccccdc;letter-spacing:-0.15px;white-space:nowrap;text-align:right;-webkit-text-stroke:0.3px #ccccdc;">0.150</div>
<div class="t" style="position:absolute;right:1292.20px;top:441.21px;font-size:11.6px;line-height:11.6px;font-weight:400;color:#ccccdc;letter-spacing:-0.15px;white-space:nowrap;text-align:right;-webkit-text-stroke:0.3px #ccccdc;">0.100</div>
<div class="t" style="position:absolute;right:1292.20px;top:469.55px;font-size:11.6px;line-height:11.6px;font-weight:400;color:#ccccdc;letter-spacing:-0.15px;white-space:nowrap;text-align:right;-webkit-text-stroke:0.3px #ccccdc;">0.0500</div>
<div class="t" style="position:absolute;right:1292.20px;top:497.88px;font-size:11.6px;line-height:11.6px;font-weight:400;color:#ccccdc;letter-spacing:-0.15px;white-space:nowrap;text-align:right;-webkit-text-stroke:0.3px #ccccdc;">0</div>
<div class="t" style="position:absolute;left:133.40px;width:60px;top:512.68px;font-size:11.6px;line-height:11.6px;font-weight:400;color:#ccccdc;letter-spacing:-0.15px;white-space:nowrap;text-align:center;-webkit-text-stroke:0.3px #ccccdc;">06:00</div>
<div class="t" style="position:absolute;left:228.27px;width:60px;top:512.68px;font-size:11.6px;line-height:11.6px;font-weight:400;color:#ccccdc;letter-spacing:-0.15px;white-space:nowrap;text-align:center;-webkit-text-stroke:0.3px #ccccdc;">06:05</div>
<div class="t" style="position:absolute;left:323.14px;width:60px;top:512.68px;font-size:11.6px;line-height:11.6px;font-weight:400;color:#ccccdc;letter-spacing:-0.15px;white-space:nowrap;text-align:center;-webkit-text-stroke:0.3px #ccccdc;">06:10</div>
<div class="t" style="position:absolute;left:418.01px;width:60px;top:512.68px;font-size:11.6px;line-height:11.6px;font-weight:400;color:#ccccdc;letter-spacing:-0.15px;white-space:nowrap;text-align:center;-webkit-text-stroke:0.3px #ccccdc;">06:15</div>
<div class="t" style="position:absolute;left:512.88px;width:60px;top:512.68px;font-size:11.6px;line-height:11.6px;font-weight:400;color:#ccccdc;letter-spacing:-0.15px;white-space:nowrap;text-align:center;-webkit-text-stroke:0.3px #ccccdc;">06:20</div>
<div class="t" style="position:absolute;left:607.75px;width:60px;top:512.68px;font-size:11.6px;line-height:11.6px;font-weight:400;color:#ccccdc;letter-spacing:-0.15px;white-space:nowrap;text-align:center;-webkit-text-stroke:0.3px #ccccdc;">06:25</div>
<div class="t" style="position:absolute;left:702.62px;width:60px;top:512.68px;font-size:11.6px;line-height:11.6px;font-weight:400;color:#ccccdc;letter-spacing:-0.15px;white-space:nowrap;text-align:center;-webkit-text-stroke:0.3px #ccccdc;">06:30</div>
<div class="t" style="position:absolute;left:797.49px;width:60px;top:512.68px;font-size:11.6px;line-height:11.6px;font-weight:400;color:#ccccdc;letter-spacing:-0.15px;white-space:nowrap;text-align:center;-webkit-text-stroke:0.3px #ccccdc;">06:35</div>
<div class="t" style="position:absolute;left:892.36px;width:60px;top:512.68px;font-size:11.6px;line-height:11.6px;font-weight:400;color:#ccccdc;letter-spacing:-0.15px;white-space:nowrap;text-align:center;-webkit-text-stroke:0.3px #ccccdc;">06:40</div>
<div class="t" style="position:absolute;left:987.23px;width:60px;top:512.68px;font-size:11.6px;line-height:11.6px;font-weight:400;color:#ccccdc;letter-spacing:-0.15px;white-space:nowrap;text-align:center;-webkit-text-stroke:0.3px #ccccdc;">06:45</div>
<div class="t" style="position:absolute;left:1082.10px;width:60px;top:512.68px;font-size:11.6px;line-height:11.6px;font-weight:400;color:#ccccdc;letter-spacing:-0.15px;white-space:nowrap;text-align:center;-webkit-text-stroke:0.3px #ccccdc;">06:50</div>
<div class="t" style="position:absolute;left:1176.97px;width:60px;top:512.68px;font-size:11.6px;line-height:11.6px;font-weight:400;color:#ccccdc;letter-spacing:-0.15px;white-space:nowrap;text-align:center;-webkit-text-stroke:0.3px #ccccdc;">06:55</div>
<div style="position:absolute;left:1272.50px;top:343.00px;width:14.00px;height:4.00px;background:#7eb26d;border-radius:1px;box-sizing:border-box;"></div>
<div class="t" style="position:absolute;left:1295.50px;top:338.34px;font-size:12px;line-height:12px;font-weight:400;color:#ccccdc;letter-spacing:-0.12px;white-space:nowrap;-webkit-text-stroke:0.2px #ccccdc;">default</div>
<div style="position:absolute;left:1271.00px;top:357.20px;width:100.00px;height:25.00px;background:#222328;border-radius:0px;box-sizing:border-box;"></div>
<div style="position:absolute;left:1272.50px;top:368.20px;width:14.00px;height:4.00px;background:#eab839;border-radius:1px;box-sizing:border-box;"></div>
<div class="t" style="position:absolute;left:1295.50px;top:363.54px;font-size:12px;line-height:12px;font-weight:400;color:#ccccdc;letter-spacing:-0.12px;white-space:nowrap;-webkit-text-stroke:0.2px #ccccdc;">ingress-nginx</div>
<div style="position:absolute;left:1272.50px;top:393.40px;width:14.00px;height:4.00px;background:#6ed0e0;border-radius:1px;box-sizing:border-box;"></div>
<div class="t" style="position:absolute;left:1295.50px;top:388.74px;font-size:12px;line-height:12px;font-weight:400;color:#ccccdc;letter-spacing:-0.12px;white-space:nowrap;-webkit-text-stroke:0.2px #ccccdc;">kube-system</div>
<div style="position:absolute;left:1271.00px;top:407.60px;width:100.00px;height:25.00px;background:#222328;border-radius:0px;box-sizing:border-box;"></div>
<div style="position:absolute;left:1272.50px;top:418.60px;width:14.00px;height:4.00px;background:#ef843c;border-radius:1px;box-sizing:border-box;"></div>
<div class="t" style="position:absolute;left:1295.50px;top:413.94px;font-size:12px;line-height:12px;font-weight:400;color:#ccccdc;letter-spacing:-0.12px;white-space:nowrap;-webkit-text-stroke:0.2px #ccccdc;">prometheus</div>
<div style="position:absolute;left:62.00px;top:580.40px;width:1322.00px;height:200.00px;background:#1b1c21;border:1px solid #25262b;border-radius:2px;box-sizing:border-box;"></div>
<div class="t" style="position:absolute;left:523.30px;width:400px;top:589.79px;font-size:13.6px;line-height:13.6px;font-weight:400;color:#ccccdc;letter-spacing:-0.45px;white-space:nowrap;text-align:center;-webkit-text-stroke:0.6px #ccccdc;">CPU Quota</div>
<div style="position:absolute;left:63.00px;top:612.30px;width:1320.00px;height:2.00px;background:#111217;border-radius:0px;box-sizing:border-box;"></div>
<div style="position:absolute;left:63.00px;top:614.30px;width:1320.00px;height:22.40px;background:#222328;border-radius:0px;box-sizing:border-box;"></div>
<div style="position:absolute;left:63.00px;top:636.70px;width:1320.00px;height:2.00px;background:#111217;border-radius:0px;box-sizing:border-box;"></div>
<div style="position:absolute;left:309.20px;top:641.90px;width:2.00px;height:120.00px;background:#111217;border-radius:0px;box-sizing:border-box;"></div>
<div style="position:absolute;left:363.00px;top:641.90px;width:2.00px;height:120.00px;background:#111217;border-radius:0px;box-sizing:border-box;"></div>
<div style="position:absolute;left:472.00px;top:641.90px;width:2.00px;height:120.00px;background:#111217;border-radius:0px;box-sizing:border-box;"></div>
<div style="position:absolute;left:634.00px;top:641.90px;width:2.00px;height:120.00px;background:#111217;border-radius:0px;box-sizing:border-box;"></div>
<div style="position:absolute;left:825.80px;top:641.90px;width:2.00px;height:120.00px;background:#111217;border-radius:0px;box-sizing:border-box;"></div>
<div style="position:absolute;left:1040.50px;top:641.90px;width:2.00px;height:120.00px;background:#111217;border-radius:0px;box-sizing:border-box;"></div>
<div style="position:absolute;left:1201.90px;top:641.90px;width:2.00px;height:120.00px;background:#111217;border-radius:0px;box-sizing:border-box;"></div>
<div class="t" style="position:absolute;left:77.40px;top:619.79px;font-size:13.6px;line-height:13.6px;font-weight:400;color:#53a5ea;letter-spacing:-0.2px;white-space:nowrap;-webkit-text-stroke:0.7px #53a5ea;">Namespace</div>
<div class="t" style="position:absolute;left:325.10px;top:619.79px;font-size:13.6px;line-height:13.6px;font-weight:400;color:#53a5ea;letter-spacing:-0.2px;white-space:nowrap;-webkit-text-stroke:0.7px #53a5ea;">Pods</div>
<div class="t" style="position:absolute;left:378.90px;top:619.79px;font-size:13.6px;line-height:13.6px;font-weight:400;color:#53a5ea;letter-spacing:-0.2px;white-space:nowrap;-webkit-text-stroke:0.7px #53a5ea;">Workloads</div>
<div class="t" style="position:absolute;left:486.90px;top:619.79px;font-size:13.6px;line-height:13.6px;font-weight:400;color:#53a5ea;letter-spacing:-0.2px;white-space:nowrap;-webkit-text-stroke:0.7px #53a5ea;">CPU Usage</div>
<div class="t" style="position:absolute;left:649.20px;top:619.79px;font-size:13.6px;line-height:13.6px;font-weight:400;color:#53a5ea;letter-spacing:-0.2px;white-space:nowrap;-webkit-text-stroke:0.7px #53a5ea;">CPU Requests</div>
<div class="t" style="position:absolute;left:841.20px;top:619.79px;font-size:13.6px;line-height:13.6px;font-weight:400;color:#53a5ea;letter-spacing:-0.2px;white-space:nowrap;-webkit-text-stroke:0.7px #53a5ea;">CPU Requests %</div>
<div class="t" style="position:absolute;left:1055.50px;top:619.79px;font-size:13.6px;line-height:13.6px;font-weight:400;color:#53a5ea;letter-spacing:-0.2px;white-space:nowrap;-webkit-text-stroke:0.7px #53a5ea;">CPU Limits</div>
<div class="t" style="position:absolute;left:1216.90px;top:619.79px;font-size:13.6px;line-height:13.6px;font-weight:400;color:#53a5ea;letter-spacing:-0.2px;white-space:nowrap;-webkit-text-stroke:0.7px #53a5ea;">CPU Limits %</div>
<div style="position:absolute;left:63.00px;top:675.00px;width:1320.00px;height:2.00px;background:#111217;border-radius:0px;box-sizing:border-box;"></div>
<div class="t" style="position:absolute;left:77.90px;top:651.60px;font-size:13.7px;line-height:13.7px;font-weight:400;color:#ccccdc;letter-spacing:0.12px;white-space:nowrap;text-decoration:underline;text-decoration-color:#9a9aa6;text-underline-offset:4px;text-decoration-thickness:1px;-webkit-text-stroke:0.25px #ccccdc;">prometheus</div>
<div class="t" style="position:absolute;left:325.60px;top:651.60px;font-size:13.7px;line-height:13.7px;font-weight:400;color:#ccccdc;letter-spacing:0.12px;white-space:nowrap;text-decoration:underline;text-decoration-color:#9a9aa6;text-underline-offset:4px;text-decoration-thickness:1px;-webkit-text-stroke:0.25px #ccccdc;">8</div>
<div class="t" style="position:absolute;left:379.40px;top:651.60px;font-size:13.7px;line-height:13.7px;font-weight:400;color:#ccccdc;letter-spacing:0.12px;white-space:nowrap;text-decoration:underline;text-decoration-color:#9a9aa6;text-underline-offset:4px;text-decoration-thickness:1px;-webkit-text-stroke:0.25px #ccccdc;">6</div>
<div class="t" style="position:absolute;left:487.40px;top:651.60px;font-size:13.7px;line-height:13.7px;font-weight:400;color:#ccccdc;letter-spacing:0.12px;white-space:nowrap;-webkit-text-stroke:0.25px #ccccdc;">0.13</div>
<div class="t" style="position:absolute;left:649.70px;top:651.60px;font-size:13.7px;line-height:13.7px;font-weight:400;color:#ccccdc;letter-spacing:0.12px;white-space:nowrap;-webkit-text-stroke:0.25px #ccccdc;">0.20</div>
<div class="t" style="position:absolute;left:841.70px;top:651.60px;font-size:13.7px;line-height:13.7px;font-weight:400;color:#ccccdc;letter-spacing:0.12px;white-space:nowrap;-webkit-text-stroke:0.25px #ccccdc;">62.76%</div>
<div class="t" style="position:absolute;left:1056.00px;top:651.60px;font-size:13.7px;line-height:13.7px;font-weight:400;color:#ccccdc;letter-spacing:0.12px;white-space:nowrap;-webkit-text-stroke:0.25px #ccccdc;">0.20</div>
<div class="t" style="position:absolute;left:1217.40px;top:651.60px;font-size:13.7px;line-height:13.7px;font-weight:400;color:#ccccdc;letter-spacing:0.12px;white-space:nowrap;-webkit-text-stroke:0.25px #ccccdc;">62.76%</div>
<div style="position:absolute;left:63.00px;top:709.50px;width:1320.00px;height:2.00px;background:#111217;border-radius:0px;box-sizing:border-box;"></div>
<div class="t" style="position:absolute;left:77.90px;top:686.10px;font-size:13.7px;line-height:13.7px;font-weight:400;color:#ccccdc;letter-spacing:0.12px;white-space:nowrap;text-decoration:underline;text-decoration-color:#9a9aa6;text-underline-offset:4px;text-decoration-thickness:1px;-webkit-text-stroke:0.25px #ccccdc;">kube-system</div>
<div class="t" style="position:absolute;left:325.60px;top:686.10px;font-size:13.7px;line-height:13.7px;font-weight:400;color:#ccccdc;letter-spacing:0.12px;white-space:nowrap;text-decoration:underline;text-decoration-color:#9a9aa6;text-underline-offset:4px;text-decoration-thickness:1px;-webkit-text-stroke:0.25px #ccccdc;">14</div>
<div class="t" style="position:absolute;left:379.40px;top:686.10px;font-size:13.7px;line-height:13.7px;font-weight:400;color:#ccccdc;letter-spacing:0.12px;white-space:nowrap;text-decoration:underline;text-decoration-color:#9a9aa6;text-underline-offset:4px;text-decoration-thickness:1px;-webkit-text-stroke:0.25px #ccccdc;">7</div>
<div class="t" style="position:absolute;left:487.40px;top:686.10px;font-size:13.7px;line-height:13.7px;font-weight:400;color:#ccccdc;letter-spacing:0.12px;white-space:nowrap;-webkit-text-stroke:0.25px #ccccdc;">0.15</div>
<div class="t" style="position:absolute;left:649.70px;top:686.10px;font-size:13.7px;line-height:13.7px;font-weight:400;color:#ccccdc;letter-spacing:0.12px;white-space:nowrap;-webkit-text-stroke:0.25px #ccccdc;">1.37</div>
<div class="t" style="position:absolute;left:841.70px;top:686.10px;font-size:13.7px;line-height:13.7px;font-weight:400;color:#ccccdc;letter-spacing:0.12px;white-space:nowrap;-webkit-text-stroke:0.25px #ccccdc;">10.76%</div>
<div class="t" style="position:absolute;left:1056.00px;top:686.10px;font-size:13.7px;line-height:13.7px;font-weight:400;color:#ccccdc;letter-spacing:0.12px;white-space:nowrap;-webkit-text-stroke:0.25px #ccccdc;">-</div>
<div class="t" style="position:absolute;left:1217.40px;top:686.10px;font-size:13.7px;line-height:13.7px;font-weight:400;color:#ccccdc;letter-spacing:0.12px;white-space:nowrap;-webkit-text-stroke:0.25px #ccccdc;">-</div>
<div style="position:absolute;left:63.00px;top:744.00px;width:1320.00px;height:2.00px;background:#111217;border-radius:0px;box-sizing:border-box;"></div>
<div class="t" style="position:absolute;left:77.90px;top:720.60px;font-size:13.7px;line-height:13.7px;font-weight:400;color:#ccccdc;letter-spacing:0.12px;white-space:nowrap;text-decoration:underline;text-decoration-color:#9a9aa6;text-underline-offset:4px;text-decoration-thickness:1px;-webkit-text-stroke:0.25px #ccccdc;">ingress-nginx</div>
<div class="t" style="position:absolute;left:325.60px;top:720.60px;font-size:13.7px;line-height:13.7px;font-weight:400;color:#ccccdc;letter-spacing:0.12px;white-space:nowrap;text-decoration:underline;text-decoration-color:#9a9aa6;text-underline-offset:4px;text-decoration-thickness:1px;-webkit-text-stroke:0.25px #ccccdc;">1</div>
<div class="t" style="position:absolute;left:379.40px;top:720.60px;font-size:13.7px;line-height:13.7px;font-weight:400;color:#ccccdc;letter-spacing:0.12px;white-space:nowrap;text-decoration:underline;text-decoration-color:#9a9aa6;text-underline-offset:4px;text-decoration-thickness:1px;-webkit-text-stroke:0.25px #ccccdc;">1</div>
<div class="t" style="position:absolute;left:487.40px;top:720.60px;font-size:13.7px;line-height:13.7px;font-weight:400;color:#ccccdc;letter-spacing:0.12px;white-space:nowrap;-webkit-text-stroke:0.25px #ccccdc;">0.00</div>
<div class="t" style="position:absolute;left:649.70px;top:720.60px;font-size:13.7px;line-height:13.7px;font-weight:400;color:#ccccdc;letter-spacing:0.12px;white-space:nowrap;-webkit-text-stroke:0.25px #ccccdc;">0.10</div>
<div class="t" style="position:absolute;left:841.70px;top:720.60px;font-size:13.7px;line-height:13.7px;font-weight:400;color:#ccccdc;letter-spacing:0.12px;white-space:nowrap;-webkit-text-stroke:0.25px #ccccdc;">1.76%</div>
<div class="t" style="position:absolute;left:1056.00px;top:720.60px;font-size:13.7px;line-height:13.7px;font-weight:400;color:#ccccdc;letter-spacing:0.12px;white-space:nowrap;-webkit-text-stroke:0.25px #ccccdc;">-</div>
<div class="t" style="position:absolute;left:1217.40px;top:720.60px;font-size:13.7px;line-height:13.7px;font-weight:400;color:#ccccdc;letter-spacing:0.12px;white-space:nowrap;-webkit-text-stroke:0.25px #ccccdc;">-</div>
<div style="position:absolute;left:63.00px;top:778.50px;width:1320.00px;height:2.00px;background:#111217;border-radius:0px;box-sizing:border-box;"></div>
<div class="t" style="position:absolute;left:77.90px;top:755.10px;font-size:13.7px;line-height:13.7px;font-weight:400;color:#ccccdc;letter-spacing:0.12px;white-space:nowrap;text-decoration:underline;text-decoration-color:#9a9aa6;text-underline-offset:4px;text-decoration-thickness:1px;-webkit-text-stroke:0.25px #ccccdc;">default</div>
<div class="t" style="position:absolute;left:325.60px;top:755.10px;font-size:13.7px;line-height:13.7px;font-weight:400;color:#ccccdc;letter-spacing:0.12px;white-space:nowrap;text-decoration:underline;text-decoration-color:#9a9aa6;text-underline-offset:4px;text-decoration-thickness:1px;-webkit-text-stroke:0.25px #ccccdc;">2</div>
<div class="t" style="position:absolute;left:379.40px;top:755.10px;font-size:13.7px;line-height:13.7px;font-weight:400;color:#ccccdc;letter-spacing:0.12px;white-space:nowrap;text-decoration:underline;text-decoration-color:#9a9aa6;text-underline-offset:4px;text-decoration-thickness:1px;-webkit-text-stroke:0.25px #ccccdc;">2</div>
<div class="t" style="position:absolute;left:487.40px;top:755.10px;font-size:13.7px;line-height:13.7px;font-weight:400;color:#ccccdc;letter-spacing:0.12px;white-space:nowrap;-webkit-text-stroke:0.25px #ccccdc;">0.00</div>
<div class="t" style="position:absolute;left:649.70px;top:755.10px;font-size:13.7px;line-height:13.7px;font-weight:400;color:#ccccdc;letter-spacing:0.12px;white-space:nowrap;-webkit-text-stroke:0.25px #ccccdc;">0</div>
<div class="t" style="position:absolute;left:841.70px;top:755.10px;font-size:13.7px;line-height:13.7px;font-weight:400;color:#ccccdc;letter-spacing:0.12px;white-space:nowrap;-webkit-text-stroke:0.25px #ccccdc;">-</div>
<div class="t" style="position:absolute;left:1056.00px;top:755.10px;font-size:13.7px;line-height:13.7px;font-weight:400;color:#ccccdc;letter-spacing:0.12px;white-space:nowrap;-webkit-text-stroke:0.25px #ccccdc;">4.00</div>
<div class="t" style="position:absolute;left:1217.40px;top:755.10px;font-size:13.7px;line-height:13.7px;font-weight:400;color:#ccccdc;letter-spacing:0.12px;white-space:nowrap;-webkit-text-stroke:0.25px #ccccdc;">0.00%</div>
</body></html>
